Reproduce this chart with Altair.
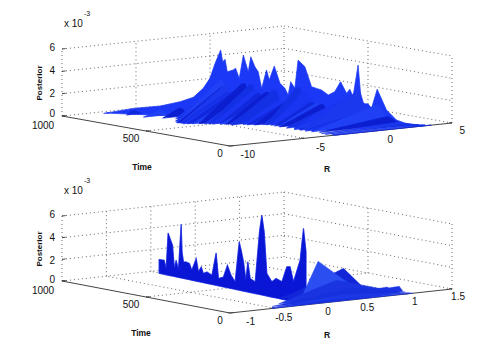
import altair as alt
import pandas as pd

# ---- values ----
TIME_TICKS = [0, 500, 1000]
POST_TICKS = [0, 2, 4, 6]
POST_LABELS = ["0", "2", "4", "6"]
R_TICKS_TOP = [-10, -5, 0, 5]
R_LABELS_TOP = ["-10", "-5", "0", "5"]
R_TICKS_BOT = [-1, -0.5, 0, 0.5, 1, 1.5]
R_LABELS_BOT = ["-1", "-0.5", "0", "0.5", "1", "1.5"]

# upper surface: ridge, one entry per time row (posterior in units of 1e-3)
TOP_T = [963,880,797,735,694,663,642,626,609,602,595,588,570,562,551,538,523,515,502,492,481,466,458,442,424,
         409,399,391,378,368,347,326,310,295,274,254,236,217,207,197,181,171,150,140,122,93,62,40,20,0]
TOP_R = [-7.40,-6.54,-5.68,-5.03,-4.60,-4.28,-4.07,-3.90,-3.72,-3.66,-3.58,-3.51,-3.32,-3.24,-3.12,-2.99,-2.83,-2.75,-2.62,-2.51,-2.40,-2.24,-2.15,-1.99,-1.81,
         -1.65,-1.54,-1.46,-1.33,-1.22,-1.00,-.79,-.63,-.47,-.25,-.04,.15,.34,.45,.55,.71,.82,1.04,1.15,1.33,1.63,1.95,2.3,2.7,3.0]
TOP_Z = [.02,.53,.84,1.31,1.75,2.6,3.52,4.88,6.1,5.06,5.28,4.18,4.35,4.52,3.63,5.74,4.26,5.61,4.74,4.3,2.83,4.49,3.6,4.87,3.35,
         2.92,2.34,3.54,2.96,5.5,4.93,3.17,3.04,2.91,2.49,2.81,3.73,2.71,3.09,2.44,5.29,1.88,1.84,1.47,3.2,1.38,.52,.25,.12,.05]
TOP_RL = [-7.6,-7.0,-6.8,-6.2,-5.8,-5.8,-6.4,-6.5,-6.7,-6.7,-6.6,-6.6,-6.7,-6.5,-6.3,-6.0,-5.8,-5.6,-5.5,-5.1,-5.2,-5.0,-4.8,-4.9,-4.3,
          -4.2,-3.9,-3.9,-3.5,-3.4,-3.3,-3.3,-3.2,-3.3,-3.0,-3.3,-3.0,-3.2,-3.3,-3.1,-3.2,-3.0,-3.2,-2.9,-3.1,-2.9,-3.1,-3.1,-2.9,-3.0]
TOP_RR = [-7.2,-6.0,-5.2,-4.5,-4.0,-3.7,-3.4,-3.2,-3.0,-2.9,-2.9,-2.8,-2.6,-2.5,-2.4,-2.2,-2.1,-2.0,-1.9,-1.8,-1.7,-1.5,-1.4,-1.2,-1.1,
          -.9,-.8,-.7,-.6,-.4,-.2,0,.1,.3,.5,.7,.9,1.1,1.2,1.3,1.5,1.6,1.8,1.9,2.2,2.6,2.9,3.2,3.4,3.6]
TOP_SHADES = ["#1a35f2", "#1128dc", "#2040f5", "#0c1fd0", "#1c38ee", "#1430e4"]

# lower surface: thin wall of spikes
WALL_T = [944,912,899,887,874,859,847,836,821,804,798,789,774,751,736,708,694,676,662,640,608,581,566,534,
          509,487,460,434,422,407,392,379,364,332,305,290,275,258,226,199,162,131,110,88,46,25,9]
WALL_R = [-.012,-.016,-.018,-.019,-.021,-.022,-.024,-.025,-.027,-.029,-.030,-.031,-.033,-.036,-.038,-.041,-.043,-.045,-.047,-.050,-.053,-.057,-.059,-.063,
          -.066,-.068,-.072,-.075,-.076,-.078,-.080,-.082,-.084,-.088,-.091,-.093,-.095,-.097,-.101,-.104,-.109,-.112,-.115,-.118,-.123,-.125,-.127]
WALL_Z = [1.27,1.30,.57,3.9,3.42,2.84,.74,1.53,.72,4.96,2.4,1.52,1.57,1.5,.92,2.09,.9,1.4,.84,1.06,.85,2.99,.67,.92,
          2.08,1.23,.69,4.46,3.74,2.71,1.06,2.79,1.3,1.08,5.79,7.38,5.88,2.09,1.41,1.81,1.61,3.09,3.16,1.84,3.97,6.96,4.85]

# lower surface: fan of rows near time 0
FAN_T = [200, 170, 90, 110, 80, 60, 40, 15, 0]
FAN_RL = [-.05, -.1, .2, .0, -.3, -.3, -.45, -.5, -.53]
FAN_RP = [.55, .6, .94, .2, .35, 1.02, .45, .3, .1]
FAN_Z = [1.0, 2.2, .42, 3.4, 1.6, .5, .9, .5, .2]
FAN_RR = [.95, .85, 1.0, .7, 1.0, 1.06, 1.05, 1.06, 1.06]
FAN_SHADES = ["#1428dc", "#1226d8", "#1a34e4", "#2a4ef0", "#1a34e2", "#1a34e4", "#1630de", "#1c38e6", "#1630e0"]

# ---- layout of the two 3-D boxes, in panel pixels ----
W, H = 486, 168
TOP = dict(fx=222, fy=138, lx=54, ly=108, rx=444, ry=115, h=67, rmin=-10, rmax=5,
           rticks=R_TICKS_TOP, rlabels=R_LABELS_TOP,
           roff=[(25, 9), (21, 10), (15, 9), (13, 8)],
           zlabel_y=[106, 86, 63, 40], exp_y=16, exp2_y=6, post_y=75, time=(134, 159), r=(319, 161))
BOT = dict(fx=222, fy=137, lx=54, ly=105, rx=444, ry=113, h=65, rmin=-1, rmax=1.5,
           rticks=R_TICKS_BOT, rlabels=R_LABELS_BOT,
           roff=[(25, 9), (18, 10), (12, 9), (11, 9), (10, 8), (13, 8)],
           zlabel_y=[104, 85, 62, 39], exp_y=15, exp2_y=5, post_y=73, time=(133, 157), r=(319, 159))

xs = alt.Scale(domain=[0, W], range=[0, W], nice=False, zero=False)
ys = alt.Scale(domain=[0, H], range=[0, H], nice=False, zero=False)


def proj(c, t, r, z=0.0):
    a = t / 1000.0
    b = (r - c["rmin"]) / (c["rmax"] - c["rmin"])
    return (c["fx"] + a * (c["lx"] - c["fx"]) + b * (c["rx"] - c["fx"]),
            c["fy"] + a * (c["ly"] - c["fy"]) + b * (c["ry"] - c["fy"]) - z / 6.0 * c["h"])


def seg(rows, gid, c, a, b):
    for i, p in enumerate((a, b)):
        x, y = proj(c, *p)
        rows.append(dict(x=x, y=y, g=gid, o=i))


def lines(rows, color, width, dash=None):
    kw = dict(color=color, strokeWidth=width, clip=False)
    if dash:
        kw["strokeDash"] = dash
    return alt.Chart(pd.DataFrame(rows)).mark_line(**kw).encode(
        x=alt.X("x:Q", scale=xs, axis=None),
        y=alt.Y("y:Q", scale=ys, axis=None),
        detail="g:N", order="o:Q")


def texts(rows, size, align="center", weight="normal", angle=0):
    return alt.Chart(pd.DataFrame(rows)).mark_text(
        font="Liberation Sans", fontSize=size, align=align, baseline="middle",
        fontWeight=weight, angle=angle, color="#111111", clip=False).encode(
        x=alt.X("x:Q", scale=xs, axis=None),
        y=alt.Y("y:Q", scale=ys, axis=None),
        text="t:N")


def areas(rows, width=0.7):
    return alt.Chart(pd.DataFrame(rows)).mark_area(strokeWidth=width, clip=False).encode(
        x=alt.X("x:Q", scale=xs, axis=None),
        y=alt.Y("y:Q", scale=ys, axis=None),
        y2="y2:Q",
        detail="row:N",
        color=alt.Color("shade:N", scale=None),
        stroke=alt.Stroke("shade:N", scale=None))


def row_points(c, rid, shade, t, rs, zs):
    out = []
    for r, z in zip(rs, zs):
        x, y = proj(c, t, r, z)
        _, y0 = proj(c, t, r, 0)
        out.append(dict(x=x, y=y, y2=y0, row=rid, shade=shade))
    return out


def frame(c):
    rmin, rmax = c["rmin"], c["rmax"]
    dotted, solid, n = [], [], 0
    for r in c["rticks"][1:]:
        seg(dotted, n, c, (0, r), (1000, r)); n += 1
    for t in TIME_TICKS[1:]:
        seg(dotted, n, c, (t, rmin), (t, rmax)); n += 1
    for z in POST_TICKS[1:]:
        seg(dotted, n, c, (1000, rmin, z), (1000, rmax, z)); n += 1
        seg(dotted, n, c, (1000, rmax, z), (0, rmax, z)); n += 1
    for r in c["rticks"]:
        seg(dotted, n, c, (1000, r, 0), (1000, r, 6)); n += 1
    for t in TIME_TICKS[:2]:
        seg(dotted, n, c, (t, rmax, 0), (t, rmax, 6)); n += 1
    seg(solid, n, c, (1000, rmin), (0, rmin)); n += 1
    seg(solid, n, c, (0, rmin), (0, rmax)); n += 1
    dr = (rmax - rmin) * 0.016
    for t in TIME_TICKS:
        seg(solid, n, c, (t, rmin), (t, rmin + dr)); n += 1
    for r in c["rticks"]:
        seg(solid, n, c, (0, r), (16, r)); n += 1
    for z in POST_TICKS:
        seg(solid, n, c, (1000, rmin, z), (1000, rmin + dr, z)); n += 1
    return lines(dotted, "#666666", 1, [1, 3]), lines(solid, "#444444", 1)


def labels(c):
    rmin = c["rmin"]
    tl = []
    for t, off in zip(TIME_TICKS, [(-10, 8), (-15, 8), (-19, 10)]):
        x, y = proj(c, t, rmin)
        tl.append(dict(x=x + off[0], y=y + off[1], t=str(t)))
    rl = []
    for r, lab, off in zip(c["rticks"], c["rlabels"], c["roff"]):
        x, y = proj(c, 0, r)
        rl.append(dict(x=x + off[0], y=y + off[1], t=lab))
    zl = [dict(x=47, y=y, t=lab) for y, lab in zip(c["zlabel_y"], POST_LABELS)]
    return [
        texts(tl, 10),
        texts(rl, 10, align="right"),
        texts(zl, 10, align="right"),
        texts([dict(x=56, y=c["exp_y"], t="x 10")], 10, align="left"),
        texts([dict(x=79, y=c["exp2_y"], t="-3")], 7, align="center"),
        texts([dict(x=c["time"][0], y=c["time"][1], t="Time")], 8.5, weight="bold"),
        texts([dict(x=c["r"][0], y=c["r"][1], t="R")], 8.5, weight="bold"),
        texts([dict(x=32, y=c["post_y"], t="Posterior")], 8, weight="bold", angle=270),
    ]


def top_panel():
    c = TOP
    dotted, solid = frame(c)
    rows = []
    pts = [(*proj(c, t, r, z), proj(c, t, r, 0)[1]) for t, r, z in zip(TOP_T, TOP_R, TOP_Z)]
    rows += [dict(x=x, y=y, y2=y0, row=0, shade="#1a38f5") for x, y, y0 in pts]
    for i, (t, r, z, rl, rr) in enumerate(zip(TOP_T, TOP_R, TOP_Z, TOP_RL, TOP_RR)):
        rows += row_points(c, i + 1, TOP_SHADES[i % len(TOP_SHADES)], t,
                           [rl, r - 0.12, r + 0.12, rr], [0, z * 0.55, z * 0.55, 0])
    return alt.layer(dotted, solid, areas(rows), *labels(c)).properties(width=W, height=H)


def bottom_panel():
    c = BOT
    dotted, solid = frame(c)
    halo, rows = [], []
    pts = [(*proj(c, t, r, z), proj(c, t, r, 0)[1]) for t, r, z in zip(WALL_T, WALL_R, WALL_Z)]
    halo += [dict(x=x, y=y, y2=y0, row=0, shade="#6a78f2") for x, y, y0 in pts]
    rows += [dict(x=x, y=y, y2=y0, row=0, shade="#0a16d6") for x, y, y0 in pts]
    for i, (t, rl, rp, z, rr) in enumerate(zip(FAN_T, FAN_RL, FAN_RP, FAN_Z, FAN_RR)):
        rows += row_points(c, i + 1, FAN_SHADES[i], t, [rl, rp, rr], [0, z, 0])
    return alt.layer(dotted, solid, areas(halo, 1.2), areas(rows, 0.4), *labels(c)).properties(width=W, height=H)


chart = alt.vconcat(top_panel(), bottom_panel(), spacing=0, padding=0).configure_view(stroke=None)
chart.save("out.html", embed_options={"renderer": "svg", "actions": False})
